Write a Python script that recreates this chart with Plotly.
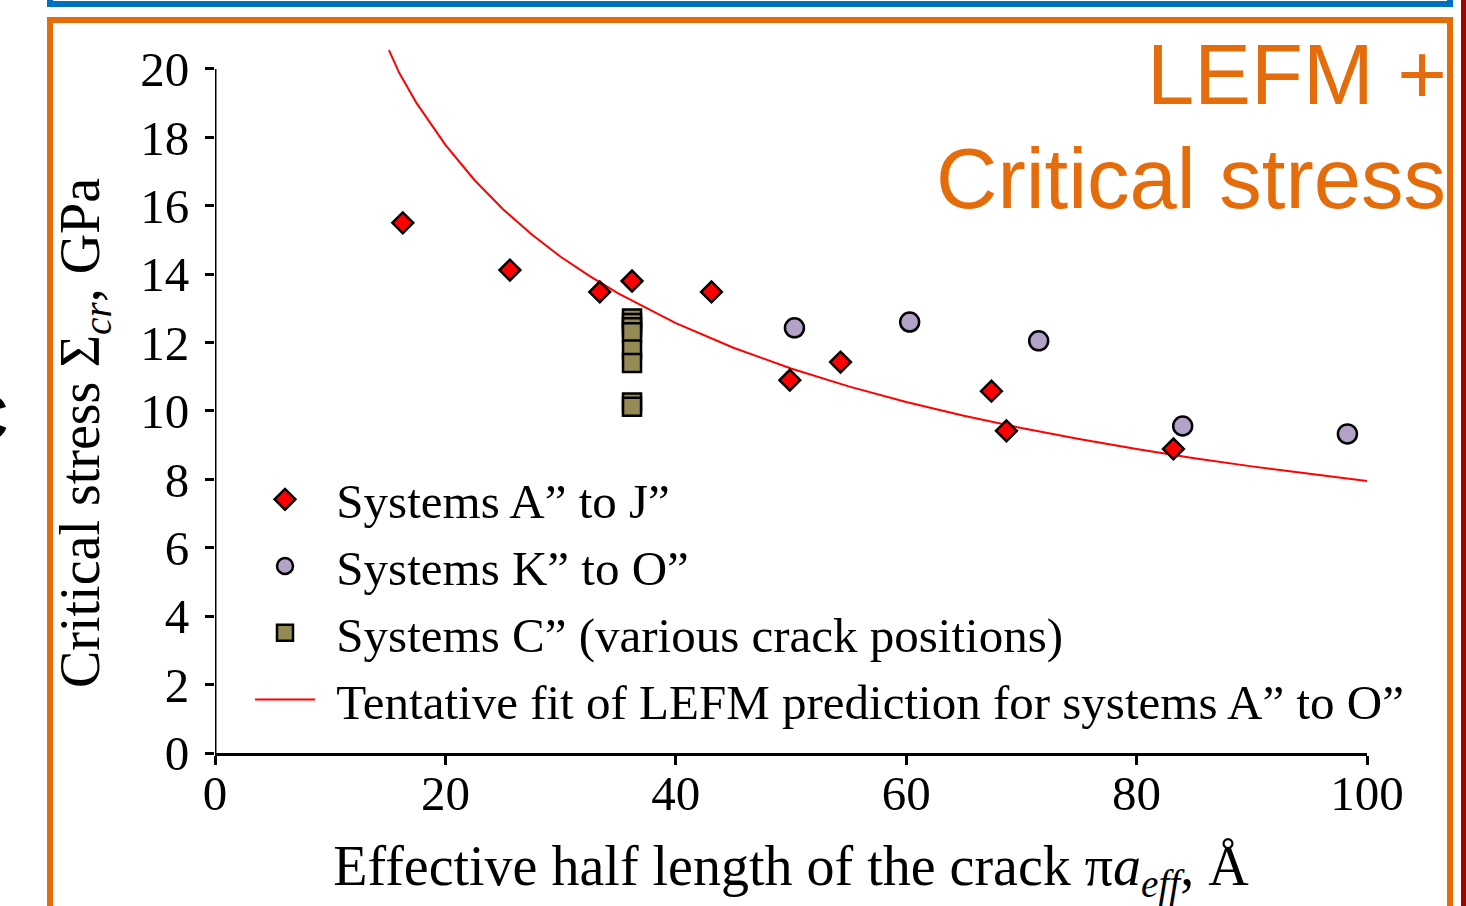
import plotly.graph_objects as go

# ---- data ----
diamond_x = [16.3, 25.6, 33.4, 36.2, 43.1, 49.9, 54.3, 67.4, 68.7, 83.2]
diamond_y = [15.5, 14.12, 13.48, 13.8, 13.48, 10.9, 11.43, 10.58, 9.42, 8.89]

circle_x = [50.3, 60.3, 71.5, 84.0, 98.3]
circle_y = [12.43, 12.6, 12.05, 9.56, 9.33]

square_x = [36.2, 36.2, 36.2, 36.2, 36.2, 36.2, 36.2, 36.2]
square_y = [12.7, 12.57, 12.45, 12.3, 11.8, 11.4, 10.25, 10.12]

fit_x = [15.1, 16, 17.5, 20, 22.5, 25, 27.5, 30, 32.5, 35, 40, 45, 50, 55,
         60, 65, 70, 75, 80, 85, 90, 95, 100]
fit_y = [20.55, 19.88, 19.0, 17.78, 16.76, 15.9, 15.16, 14.51, 13.95, 13.44,
         12.57, 11.85, 11.24, 10.72, 10.26, 9.86, 9.5, 9.18, 8.89, 8.62,
         8.38, 8.16, 7.95]

x_ticks = [0, 20, 40, 60, 80, 100]
y_ticks = [0, 2, 4, 6, 8, 10, 12, 14, 16, 18, 20]

names = ["Systems A\u201d to J\u201d",
         "Systems K\u201d to O\u201d",
         "Systems C\u201d (various crack positions)",
         "Tentative fit of LEFM prediction for systems A\u201d to O\u201d"]

SERIF = "Liberation Serif, Times New Roman, serif"
SANS = "Liberation Sans, Arial, sans-serif"
ORANGE = "#E46C0A"

W, H = 1466, 906
L, R, T, B = 215, 99, 45, 153
PW, PH = W - L - R, H - T - B
Y_TOP = 20.7  # the fitted curve rises slightly above the 20 GPa axis end


def px(xp):
    return (xp - L) / PW


def py(yp):
    return (H - B - yp) / PH


fig = go.Figure()
fig.add_trace(go.Scatter(x=fit_x, y=fit_y, mode="lines", name="\u2004" + names[3],
                         line=dict(color="#FF0000", width=2), legendrank=4))
fig.add_trace(go.Scatter(x=diamond_x, y=diamond_y, mode="markers", name="\u2004" + names[0],
                         marker=dict(symbol="diamond", size=16, color="#FF0000",
                                     line=dict(color="black", width=2.5)),
                         legendrank=1))
fig.add_trace(go.Scatter(x=circle_x, y=circle_y, mode="markers", name="\u2004" + names[1],
                         marker=dict(symbol="circle", size=19, color="#B3A2C7",
                                     line=dict(color="black", width=2.5)),
                         legendrank=2))
fig.add_trace(go.Scatter(x=square_x, y=square_y, mode="markers", name="\u2004" + names[2],
                         marker=dict(symbol="square", size=18, color="#948A54",
                                     line=dict(color="black", width=2.5)),
                         legendrank=3))

axis_common = dict(linecolor="black", linewidth=3,
                   ticks="outside", ticklen=9, tickwidth=3, tickcolor="black",
                   showgrid=False, zeroline=False, mirror=False,
                   tickfont=dict(family=SERIF, size=49, color="black"))

fig.update_xaxes(range=[0, 100], tickvals=x_ticks, ticklabelstandoff=-14,
                 showline=True,
                 title=dict(text="Effective half length of the crack "
                                 "\u03c0<i>a</i><sub><i>eff</i></sub>, \u00c5",
                            font=dict(family=SERIF, size=56, color="black"),
                            standoff=27),
                 **axis_common)
fig.update_yaxes(range=[0, Y_TOP], tickvals=y_ticks, ticklabelstandoff=6,
                 showline=False, **axis_common)

shapes = [
    # y axis line, drawn from 0 to 20 only
    dict(type="line", xref="x", yref="y", x0=0, x1=0, y0=0, y1=20,
         line=dict(color="black", width=3), layer="above"),
    # blue panel bottom edge (panel above)
    dict(type="rect", xref="paper", yref="paper", x0=px(50), x1=px(1450),
         y0=py(4), y1=py(-60), line=dict(color="#0070C0", width=6),
         fillcolor="rgba(0,0,0,0)", layer="above"),
    # orange panel frame
    dict(type="rect", xref="paper", yref="paper", x0=px(50), x1=px(1450),
         y0=py(960), y1=py(20), line=dict(color=ORANGE, width=6),
         fillcolor="rgba(0,0,0,0)", layer="above"),
    # dark red vertical edge at the right
    dict(type="line", xref="paper", yref="paper", x0=px(1463.5), x1=px(1463.5),
         y0=py(-10), y1=py(920), line=dict(color="#A80000", width=5)),
]

annotations = [
    dict(text="Critical stress \u03a3<sub><i>cr</i></sub>, GPa",
         xref="paper", yref="paper", x=px(84), y=py(433), textangle=-90,
         xanchor="center", yanchor="middle", showarrow=False,
         font=dict(family=SERIF, size=56, color="black")),
    dict(text="LEFM +", xref="paper", yref="paper", x=px(1449), y=py(124),
         xanchor="right", yanchor="bottom", showarrow=False,
         font=dict(family=SANS, size=85, color=ORANGE)),
    dict(text="Critical stress", xref="paper", yref="paper", x=px(1448), y=py(228),
         xanchor="right", yanchor="bottom", showarrow=False,
         font=dict(family=SANS, size=85, color=ORANGE)),
    dict(text="<b>C</b>", xref="paper", yref="paper", x=px(10), y=py(418),
         xanchor="right", yanchor="middle", showarrow=False,
         font=dict(family=SANS, size=64, color="black")),
]

fig.update_layout(
    width=W, height=H, autosize=False,
    margin=dict(l=L, r=R, t=T, b=B, pad=0),
    paper_bgcolor="white", plot_bgcolor="white",
    shapes=shapes, annotations=annotations,
    showlegend=True,
    legend=dict(x=px(250), y=py(461), xanchor="left", yanchor="top",
                bgcolor="rgba(0,0,0,0)", borderwidth=0, itemwidth=60,
                font=dict(family=SERIF, size=49, color="black"),
                tracegroupgap=0),
)

fig.write_html("out.html", config={"displayModeBar": False},
               post_script="document.body.style.margin='0';")
